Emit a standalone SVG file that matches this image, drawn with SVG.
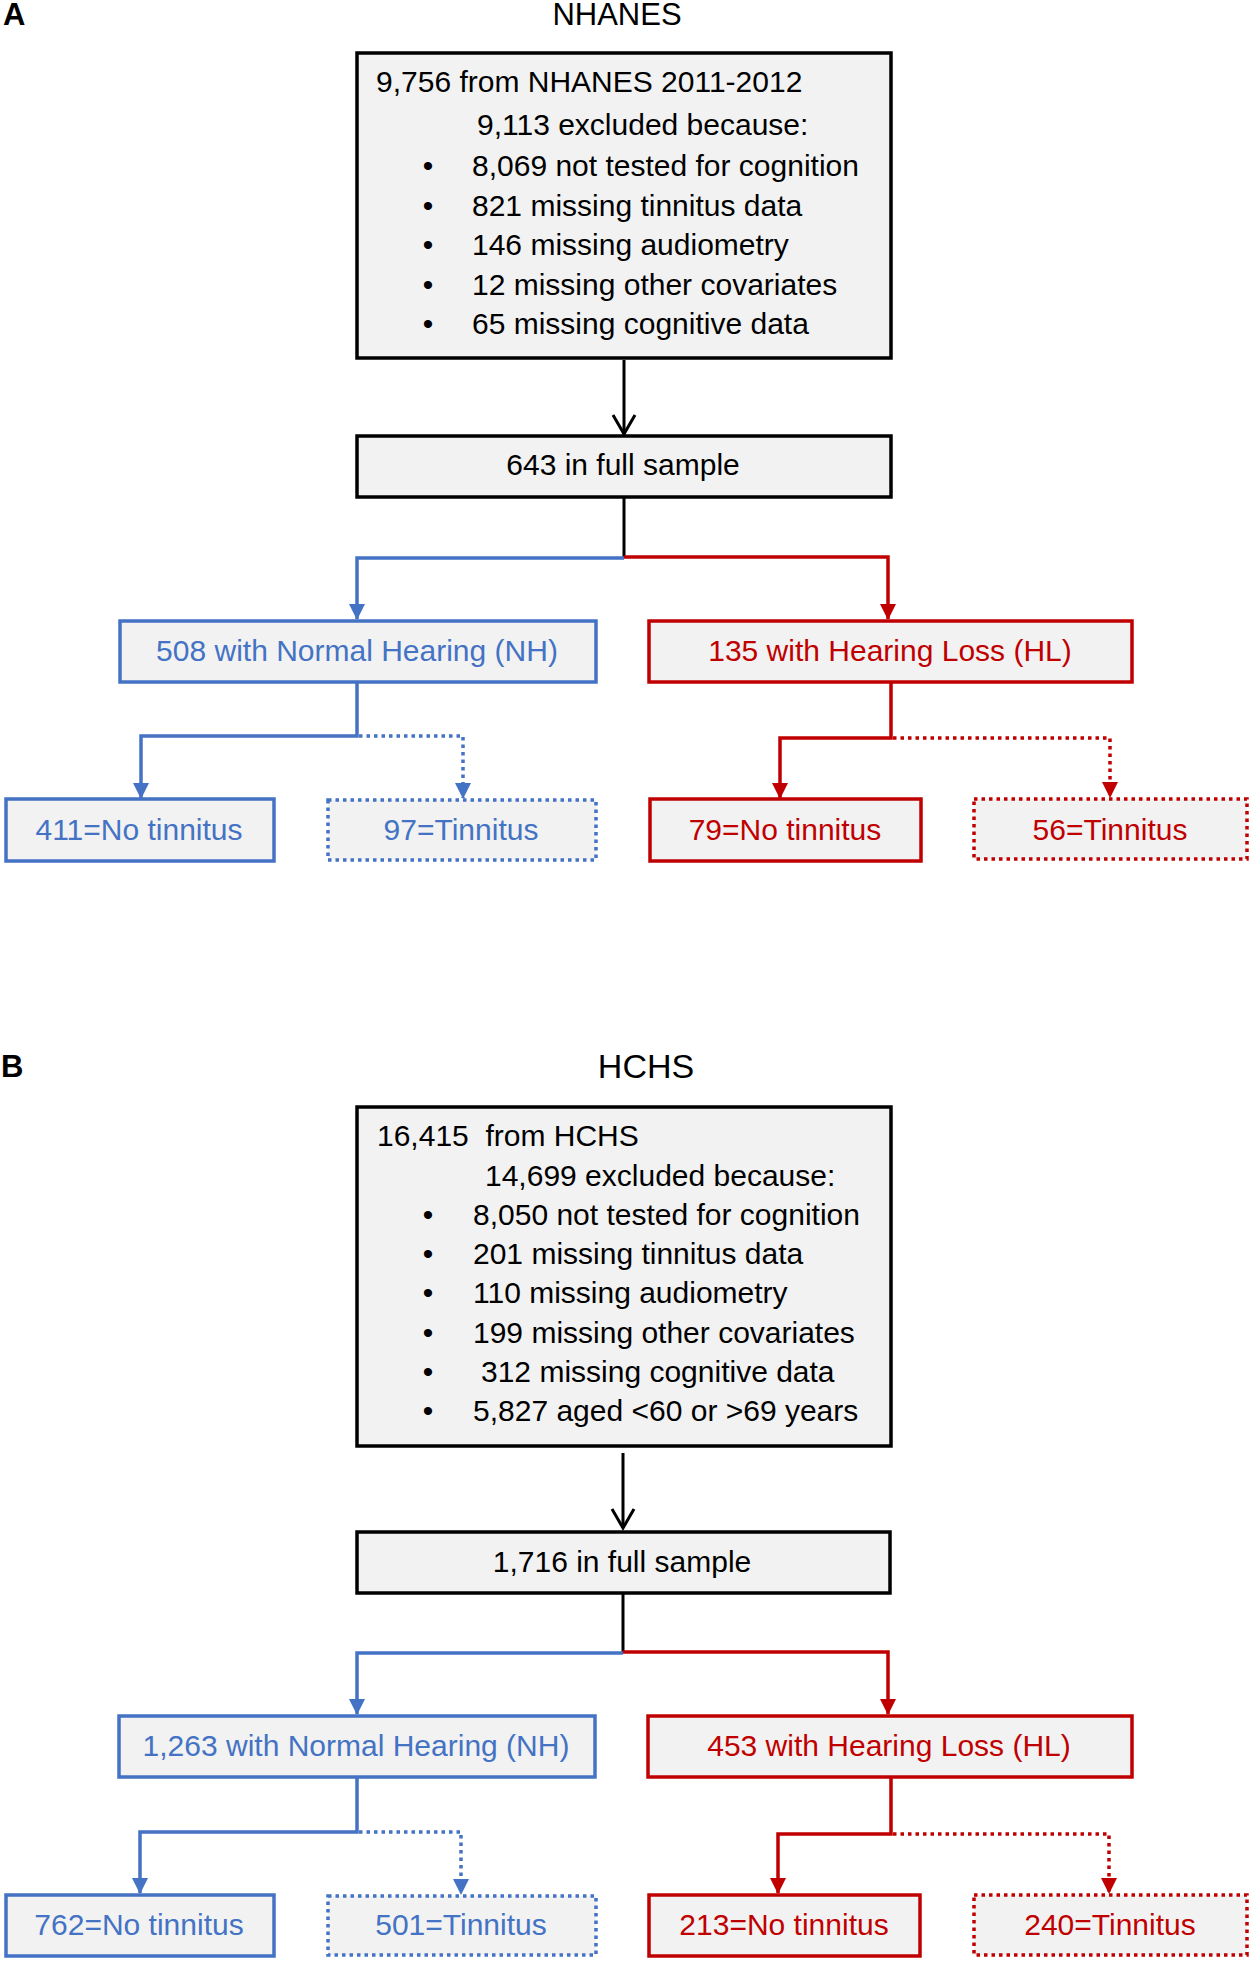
<svg xmlns="http://www.w3.org/2000/svg" width="1250" height="1961" viewBox="0 0 1250 1961">
<defs>
<style>
text{font-family:"Liberation Sans",Arial,sans-serif;font-size:30px;fill:#000}
.lbl{font-weight:bold;font-size:31px}
.ttl{text-anchor:middle}
.c{text-anchor:middle}
.blue{fill:#4472C4}
.red{fill:#C00000}
.box{fill:#F2F2F2;stroke:#000;stroke-width:3.5}
.bbox{fill:#F2F2F2;stroke:#4472C4;stroke-width:3.5}
.rbox{fill:#F2F2F2;stroke:#C00000;stroke-width:3.5}
.dot{stroke-dasharray:3.5 4}
.bl{fill:none;stroke:#000;stroke-width:3}
.bln{fill:none;stroke:#4472C4;stroke-width:3.5}
.rln{fill:none;stroke:#C00000;stroke-width:3.5}
</style>
<marker id="ab" viewBox="0 0 16 16" refX="15" refY="8" markerWidth="16" markerHeight="16" markerUnits="userSpaceOnUse" orient="auto">
<path d="M0,0 L16,8 L0,16 Z" fill="#4472C4"/>
</marker>
<marker id="ar" viewBox="0 0 16 16" refX="15" refY="8" markerWidth="16" markerHeight="16" markerUnits="userSpaceOnUse" orient="auto">
<path d="M0,0 L16,8 L0,16 Z" fill="#C00000"/>
</marker>
</defs>
<rect width="1250" height="1961" fill="#fff"/>

<text class="lbl" x="3" y="25">A</text>
<text class="ttl" x="617" y="25" style="font-size:31px">NHANES</text>
<text class="lbl" x="1" y="1077">B</text>
<text class="ttl" x="646" y="1078" style="font-size:34px">HCHS</text>

<g id="nodeA1">
<rect class="box" x="357" y="53" width="534" height="305"/>
<text x="376" y="92">9,756 from NHANES 2011-2012</text>
<text x="477" y="135">9,113 excluded because:</text>
<text class="c" x="428" y="176">•</text><text x="472" y="176">8,069 not tested for cognition</text>
<text class="c" x="428" y="216">•</text><text x="472" y="216">821 missing tinnitus data</text>
<text class="c" x="428" y="255">•</text><text x="472" y="255">146 missing audiometry</text>
<text class="c" x="428" y="295">•</text><text x="472" y="295">12 missing other covariates</text>
<text class="c" x="428" y="334">•</text><text x="472" y="334">65 missing cognitive data</text>
</g>
<g id="nodeA2">
<rect class="box" x="357" y="436" width="534" height="61"/>
<text class="c" x="623" y="475">643 in full sample</text>
</g>
<g id="nodeA3">
<rect class="bbox" x="120" y="621" width="476" height="61"/>
<text class="c blue" x="357" y="661">508 with Normal Hearing (NH)</text>
</g>
<g id="nodeA4">
<rect class="rbox" x="649" y="621" width="483" height="61"/>
<text class="c red" x="890" y="661">135 with Hearing Loss (HL)</text>
</g>
<g id="nodeA5">
<rect class="bbox" x="6" y="799" width="268" height="62"/>
<text class="c blue" x="139" y="840">411=No tinnitus</text>
</g>
<g id="nodeA6">
<rect class="bbox dot" x="328" y="800" width="268" height="60"/>
<text class="c blue" x="461" y="840">97=Tinnitus</text>
</g>
<g id="nodeA7">
<rect class="rbox" x="650" y="799" width="271" height="62"/>
<text class="c red" x="785" y="840">79=No tinnitus</text>
</g>
<g id="nodeA8">
<rect class="rbox dot" x="974" y="799" width="273" height="60"/>
<text class="c red" x="1110" y="840">56=Tinnitus</text>
</g>

<g id="nodeB1">
<rect class="box" x="357" y="1107" width="534" height="339"/>
<text x="377" y="1146">16,415&#160; from HCHS</text>
<text x="485" y="1186">14,699 excluded because:</text>
<text class="c" x="428" y="1225">•</text><text x="473" y="1225">8,050 not tested for cognition</text>
<text class="c" x="428" y="1264">•</text><text x="473" y="1264">201 missing tinnitus data</text>
<text class="c" x="428" y="1303">•</text><text x="473" y="1303">110 missing audiometry</text>
<text class="c" x="428" y="1343">•</text><text x="473" y="1343">199 missing other covariates</text>
<text class="c" x="428" y="1382">•</text><text x="481" y="1382">312 missing cognitive data</text>
<text class="c" x="428" y="1421">•</text><text x="473" y="1421">5,827 aged &lt;60 or &gt;69 years</text>
</g>
<g id="nodeB2">
<rect class="box" x="357" y="1532" width="533" height="61"/>
<text class="c" x="622" y="1572">1,716 in full sample</text>
</g>
<g id="nodeB3">
<rect class="bbox" x="119" y="1716" width="476" height="61"/>
<text class="c blue" x="356" y="1756">1,263 with Normal Hearing (NH)</text>
</g>
<g id="nodeB4">
<rect class="rbox" x="648" y="1716" width="484" height="61"/>
<text class="c red" x="889" y="1756">453 with Hearing Loss (HL)</text>
</g>
<g id="nodeB5">
<rect class="bbox" x="6" y="1895" width="268" height="61"/>
<text class="c blue" x="139" y="1935">762=No tinnitus</text>
</g>
<g id="nodeB6">
<rect class="bbox dot" x="328" y="1896" width="268" height="59"/>
<text class="c blue" x="461" y="1935">501=Tinnitus</text>
</g>
<g id="nodeB7">
<rect class="rbox" x="649" y="1895" width="271" height="61"/>
<text class="c red" x="784" y="1935">213=No tinnitus</text>
</g>
<g id="nodeB8">
<rect class="rbox dot" x="974" y="1895" width="273" height="60"/>
<text class="c red" x="1110" y="1935">240=Tinnitus</text>
</g>

<g id="connectors">
<!-- Panel A -->
<line class="bl" x1="624" y1="360" x2="624" y2="434"/>
<polyline class="bl" points="613,415 624,434 635,415"/>
<line class="bl" x1="624" y1="497" x2="624" y2="557"/>
<polyline class="bln" points="624,558 357,558 357,619" marker-end="url(#ab)"/>
<polyline class="rln" points="624,557 888,557 888,619" marker-end="url(#ar)"/>
<polyline class="bln" points="357,683 357,736 141,736 141,798" marker-end="url(#ab)"/>
<polyline class="bln dot" points="359,736 463,736 463,798" marker-end="url(#ab)"/>
<polyline class="rln" points="891,683 891,738 780,738 780,798" marker-end="url(#ar)"/>
<polyline class="rln dot" points="893,738 1110,738 1110,797" marker-end="url(#ar)"/>
<!-- Panel B -->
<line class="bl" x1="623" y1="1453" x2="623" y2="1528"/>
<polyline class="bl" points="612,1509 623,1528 634,1509"/>
<line class="bl" x1="623" y1="1593" x2="623" y2="1652"/>
<polyline class="bln" points="623,1653 357,1653 357,1714" marker-end="url(#ab)"/>
<polyline class="rln" points="623,1652 888,1652 888,1714" marker-end="url(#ar)"/>
<polyline class="bln" points="357,1778 357,1832 140,1832 140,1893" marker-end="url(#ab)"/>
<polyline class="bln dot" points="359,1832 461,1832 461,1894" marker-end="url(#ab)"/>
<polyline class="rln" points="891,1778 891,1834 778,1834 778,1893" marker-end="url(#ar)"/>
<polyline class="rln dot" points="893,1834 1109,1834 1109,1893" marker-end="url(#ar)"/>
</g>
</svg>
